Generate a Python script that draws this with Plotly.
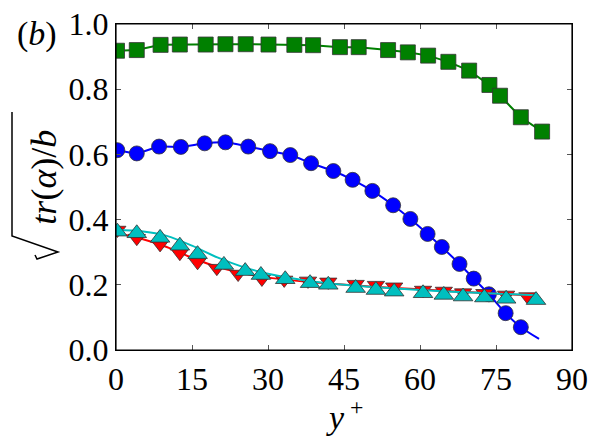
import plotly.graph_objects as go

# ---------------- data ----------------
green_x = [0.2, 4.1, 8.8, 12.6, 17.7, 21.6, 25.6, 30.1, 35.2, 38.9, 44.2, 47.9,
           53.7, 57.6, 61.6, 65.6, 69.7, 73.7, 75.8, 79.9, 84.1]
green_y = [0.918, 0.920, 0.936, 0.937, 0.937, 0.938, 0.938, 0.937, 0.936, 0.935, 0.929, 0.929,
           0.920, 0.913, 0.903, 0.884, 0.857, 0.813, 0.780, 0.714, 0.670]

blue_x = [0.26, 4.1, 8.5, 12.8, 17.5, 21.6, 26.1, 30.4, 34.4, 38.5, 42.9, 46.7,
          50.6, 54.7, 58.1, 61.5, 64.3, 67.8, 70.6, 73.6, 76.9, 79.9]
blue_y = [0.613, 0.603, 0.624, 0.623, 0.634, 0.637, 0.624, 0.610, 0.598, 0.573, 0.549, 0.522,
          0.488, 0.444, 0.402, 0.356, 0.316, 0.264, 0.219, 0.171, 0.113, 0.070]
blue_line_x = [0.0] + blue_x + [83.5]
blue_line_y = [0.613] + blue_y + [0.034]

red_x = [0.26, 4.1, 8.7, 12.6, 16.1, 19.9, 24.1, 28.8, 33.2, 37.9, 41.9, 47.3,
         51.3, 54.9, 60.6, 64.7, 68.5, 72.7, 77.0, 81.2]
red_y = [0.368, 0.343, 0.324, 0.297, 0.269, 0.251, 0.233, 0.218, 0.215, 0.212, 0.209, 0.202,
         0.199, 0.194, 0.184, 0.181, 0.176, 0.174, 0.169, 0.164]
red_line_x = [0.0, 5, 10, 15, 20, 25, 30, 40, 50, 60, 70, 82]
red_line_y = [0.359, 0.341, 0.316, 0.283, 0.255, 0.236, 0.222, 0.206, 0.195, 0.186, 0.177, 0.167]

cyan_x = [0.26, 4.1, 8.7, 12.6, 16.1, 21.3, 25.5, 28.6, 33.4, 38.3, 41.9, 47.3,
          51.3, 54.9, 60.6, 64.7, 68.5, 72.7, 77.0, 82.9]
cyan_y = [0.363, 0.358, 0.344, 0.320, 0.294, 0.261, 0.242, 0.230, 0.217, 0.205, 0.200, 0.190,
          0.184, 0.179, 0.174, 0.169, 0.164, 0.161, 0.157, 0.153]
cyan_line_x = [0.0, 5, 10, 15, 20, 25, 30, 40, 50, 60, 70, 83]
cyan_line_y = [0.368, 0.364, 0.350, 0.320, 0.284, 0.255, 0.234, 0.208, 0.194, 0.184, 0.176, 0.168]

x_ticks = [0, 15, 30, 45, 60, 75, 90]
y_ticks = [0.0, 0.2, 0.4, 0.6, 0.8, 1.0]

FONT = "Liberation Serif, Times New Roman, serif"
EDGE = dict(color="#333333", width=0.8)

fig = go.Figure()

# green squares (straight segments)
fig.add_trace(go.Scatter(x=green_x, y=green_y, mode="lines+markers",
                         line=dict(color="#008000", width=2),
                         marker=dict(symbol="square", size=15, color="#008000", line=EDGE)))

# blue circles
fig.add_trace(go.Scatter(x=blue_line_x, y=blue_line_y, mode="lines",
                         line=dict(color="#0000ff", width=2, shape="spline", smoothing=0.6)))
fig.add_trace(go.Scatter(x=blue_x, y=blue_y, mode="markers",
                         marker=dict(symbol="circle", size=15, color="#0000ff", line=EDGE)))

# red down-triangles
fig.add_trace(go.Scatter(x=red_line_x, y=red_line_y, mode="lines",
                         line=dict(color="#ff0000", width=2, shape="spline", smoothing=0.8)))
fig.add_trace(go.Scatter(x=red_x, y=red_y, mode="markers",
                         marker=dict(symbol="triangle-down", size=15, color="#ff0000", line=EDGE)))

# cyan up-triangles
fig.add_trace(go.Scatter(x=cyan_line_x, y=cyan_line_y, mode="lines",
                         line=dict(color="#00bfbf", width=2, shape="spline", smoothing=0.8)))
fig.add_trace(go.Scatter(x=cyan_x, y=cyan_y, mode="markers",
                         marker=dict(symbol="triangle-up", size=17, color="#00bfbf", line=EDGE)))

axis_common = dict(showline=True, linecolor="black", linewidth=1.2, mirror="ticks",
                   ticks="inside", ticklen=5, tickcolor="#555555", tickwidth=1,
                   showgrid=False, zeroline=False, automargin=False,
                   ticklabeloverflow="allow",
                   tickfont=dict(family=FONT, size=32, color="black"))

fig.update_xaxes(range=[0, 90], tickvals=x_ticks, **axis_common)
fig.update_yaxes(range=[0, 1.0], tickvals=y_ticks, tickformat=".1f", **axis_common)

# axis labels as annotations
fig.add_annotation(text="<i>y</i><sup> +</sup>", xref="paper", yref="paper",
                   x=0.5, y=-0.13, xanchor="center", yanchor="top", showarrow=False,
                   font=dict(family=FONT, size=34, color="black"))
fig.add_annotation(text="<i>tr</i>(<i>α</i>)/<i>b</i>", xref="paper", yref="paper",
                   x=-0.157, y=0.53, xanchor="center", yanchor="middle", textangle=-90,
                   showarrow=False, font=dict(family=FONT, size=36, color="black"))
fig.add_annotation(text="(<i>b</i>)", xref="paper", yref="paper",
                   x=-0.222, y=1.034, xanchor="left", yanchor="top", showarrow=False,
                   font=dict(family=FONT, size=34, color="black"))

# radical sign for the rotated y label (plot area: x 116..572 px, y 24..350 px on the page)
def px(xp):
    return (xp - 116) / 456.0

def py(yp):
    return (350 - yp) / 326.0

fig.add_shape(type="path", xref="paper", yref="paper",
              path=f"M {px(12)},{py(112)} L {px(12)},{py(236)} L {px(58)},{py(252)} "
                   f"L {px(37)},{py(259)} L {px(35)},{py(255)}",
              line=dict(color="black", width=1.5))

# closed frame around the plot box (matplotlib style)
fig.add_shape(type="rect", xref="paper", yref="paper", x0=0, y0=0, x1=1, y1=1,
              line=dict(color="black", width=1.2), layer="above")

# page body keeps its default 8px margin, so the plot box is placed 8px up/left
fig.update_layout(
    width=598, height=439,
    paper_bgcolor="white", plot_bgcolor="white",
    margin=dict(l=108, r=34, t=16, b=97),
    showlegend=False,
)

fig.write_html("out.html")
